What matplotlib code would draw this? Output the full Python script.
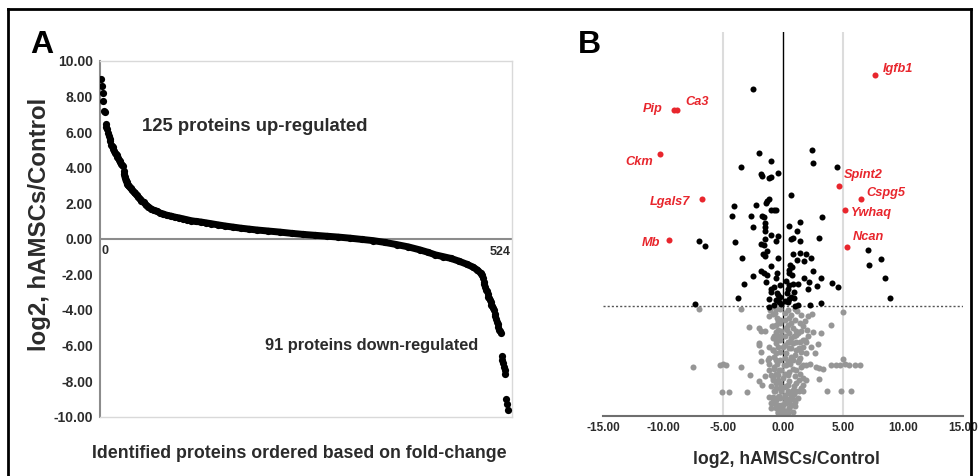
import matplotlib.pyplot as plt
from matplotlib.lines import Line2D

plt.rcParams['font.family'] = ['Liberation Sans', 'DejaVu Sans']
plt.rcParams['font.weight'] = 'bold'

# ---- panel A: proteins ranked by log2 fold-change (rank)
rank = [0, 1, 2, 3, 4, 5, 6, 7, 8, 9, 10, 11, 12, 13, 14, 15, 16, 17, 18, 19,
        20, 21, 22, 23, 24, 25, 26, 27, 28, 29, 30, 31, 32, 33, 34, 35, 36, 38,
        40, 42, 44, 46, 48, 50, 52, 55, 58, 61, 64, 68, 72, 76, 80, 85, 90, 95,
        100, 105, 110, 116, 122, 128, 135, 142, 150, 160, 170, 180, 190, 200,
        215, 230, 245, 260, 275, 290, 305, 320, 335, 350, 365, 380, 395, 410,
        420, 430, 440, 450, 460, 470, 478, 484, 488, 490, 491, 492, 493, 494,
        495, 496, 497, 498, 499, 500, 501, 502, 503, 504, 505, 506, 507, 508,
        509, 510, 511, 512, 513, 514, 515, 516, 517, 518, 519, 520, 521, 522, 523]
log2fc = [9.0, 8.6, 8.2, 7.75, 7.2, 7.15, 6.45, 6.3, 6.2, 5.95, 5.8, 5.6, 5.5,
          5.3, 5.2, 5.15, 5.05, 4.95, 4.85, 4.75, 4.7, 4.6, 4.55, 4.45, 4.4,
          4.3, 4.2, 4.15, 4.1, 3.8, 3.65, 3.45, 3.3, 3.2, 3.1, 3.0, 2.95, 2.85,
          2.75, 2.65, 2.55, 2.45, 2.35, 2.25, 2.15, 2.05, 1.9, 1.8, 1.7, 1.6,
          1.55, 1.45, 1.4, 1.32, 1.28, 1.22, 1.18, 1.13, 1.08, 1.02, 0.98, 0.95,
          0.9, 0.85, 0.79, 0.72, 0.66, 0.6, 0.55, 0.5, 0.44, 0.38, 0.31, 0.25,
          0.2, 0.15, 0.1, 0.04, -0.03, -0.1, -0.2, -0.32, -0.45, -0.62, -0.75,
          -0.9, -1.0, -1.1, -1.25, -1.42, -1.58, -1.75, -1.92, -2.05, -2.2,
          -2.4, -2.55, -2.7, -2.85, -2.95, -3.1, -3.25, -3.35, -3.45, -3.55,
          -3.7, -3.8, -3.9, -4.0, -4.2, -4.35, -4.5, -4.65, -4.8, -4.95, -5.1,
          -5.2, -5.3, -6.6, -6.8, -7.0, -7.2, -7.4, -7.6, -9.0, -9.3, -9.6]
n_proteins = 524

# ---- panel B: volcano (log2 ratio, -log10 p)
sig_x = [-2.51, -2.04, -1.04, -3.51, -1.85, -1.79, -1.04, -1.13, -0.38, 2.40,
         2.49, 4.54, 0.68, -1.18, -1.32, -1.43, -4.07, -2.29, -4.24, -2.63,
         -1.74, -1.60, -0.99, -0.57, -0.74, 3.26, 1.40, -1.54, -6.96, -6.51,
         7.10, 8.13, 7.18, 8.46, 8.90, -7.32, -2.46, -1.46, 0.54, -1.46, 1.18,
         -4.04, -1.82, -1.46, -1.04, -0.43, -0.57, 0.82, 0.63, 1.38, 3.04,
         -1.57, -1.32, -1.46, -1.63, -0.40, -3.43, 0.82, 1.38, 1.93, 1.15,
         2.35, 1.71, -1.04, 0.60, 0.76, 0.54, -1.82, -1.60, -1.35, -0.54,
         -2.51, 0.54, 0.76, 2.49, 1.71, -1.40, -0.57, 2.13, 3.18, 4.10, 4.57,
         -3.29, 2.82, -0.71, -0.99, 0.54, 0.82, 0.40, 1.24, 2.07, -0.99, -0.43,
         -0.29, 0.68, 0.88, -1.13, -0.57, -3.74, 3.18, 2.21, 1.24, 0.40, 0.96,
         -1.13, -0.71, -0.35, -0.20, 0.15, 0.30, -0.50, 0.90, 0.25, -0.25, 0.50]
sig_y = [3.87, 3.11, 3.02, 2.94, 2.86, 2.84, 2.83, 2.81, 2.87, 3.14, 2.99, 2.94,
         2.61, 2.56, 2.54, 2.52, 2.48, 2.49, 2.37, 2.37, 2.37, 2.35, 2.43, 2.44,
         2.43, 2.35, 2.29, 2.28, 2.07, 2.01, 1.96, 1.86, 1.78, 1.63, 1.40, 1.32,
         2.24, 2.24, 2.25, 2.19, 2.19, 2.06, 2.03, 2.09, 2.14, 2.13, 2.07, 2.11,
         2.09, 2.07, 2.11, 2.02, 1.95, 1.89, 1.91, 1.87, 1.87, 1.91, 1.93, 1.91,
         1.85, 1.87, 1.83, 1.77, 1.78, 1.76, 1.73, 1.72, 1.69, 1.67, 1.69, 1.66,
         1.69, 1.67, 1.72, 1.63, 1.59, 1.63, 1.58, 1.63, 1.57, 1.53, 1.56, 1.54,
         1.53, 1.50, 1.55, 1.56, 1.50, 1.56, 1.50, 1.47, 1.43, 1.41, 1.41, 1.40,
         1.38, 1.37, 1.39, 1.34, 1.31, 1.31, 1.35, 1.30, 1.29, 1.31, 1.35,
         1.33, 1.36, 1.45, 1.45, 1.47, 1.60, 1.55, 1.38]

ns_x = [-7.01, -3.51, -1.07, -0.57, -2.85, -1.96, -1.82, -1.46, -0.90, -0.57,
        -0.43, -1.96, -2.01, -1.82, -1.18, -0.71, -0.57, -0.43, -0.57,
        -0.99, -0.29, 0.40, 0.96, 0.68, 1.51, 2.43, 5.04, -1.13, -0.51, 0.49,
        0.96, 1.38, -0.85, 0.40, 0.82, 1.51, 1.99, 2.54, 3.13, 4.01, -0.57,
        0.54, 0.13, -0.85, -0.57, 0.40, 0.82, 1.38, 1.65, 1.93, 2.90, 0.54,
        1.10, 2.35, 0.26, 0.96, 1.51, 2.63, -0.85, -0.71, 0.13, 1.38, 5.04,
        -7.46, -5.24, -5.01, -4.79, -3.54, -2.71, -2.04, -1.76, -1.82, -1.26,
        -1.13, -1.18, -1.46, -0.99, -0.71, -0.57, -0.35, -5.07, -4.46, -2.99,
        -0.99, -0.71, -0.57, -1.13, -0.85, -0.57, -0.43, -0.99, -0.43,
        0.82, 1.51, -0.71, 0.26, 0.54, 1.10, 2.21, 2.76, 2.99, 3.32, 4.01,
        4.43, 4.71, 5.13, 5.54, 5.96, 6.38, 2.96, 1.93, -0.85, -0.01, 0.54,
        1.51, -0.57, 0.26, 0.82, 3.65, 4.85, 5.68, -0.85, -0.29, 0.68, 1.24,
        -0.99, -0.43, 0.26, -0.57, -0.01, 0.54, -0.15, 0.13,
        -0.29, 0.40, 1.24, 1.65, -0.15, 0.82, 1.38, -0.43, 0.13, 0.96, 1.65,
        -0.29, 0.40, 1.10, 1.65, -0.15, 0.54, 1.10, 0.13, 1.65, -0.57, 0.13,
        0.54, 0.96, -0.15, 0.68, -0.29, 0.26, 0.40, -0.43, -0.01, 0.82,
        0.13, -0.29, 0.26, -0.15, 1.10, 0.68, -0.29, 1.10, -0.01, 1.65, -0.29,
        0.68, 1.93, 1.24, 1.65, 2.07, 0.54,
        -0.85, -0.29, -1.13, -0.85, -0.29, -0.85, -0.29, -0.71, -0.29,
        -0.70, 0.20, 1.20, 1.80, 2.10, -0.40, 0.70, 1.10, 0.30, -0.60, 0.90,
        1.80, 0.20, 0.70, 1.30, -0.50, 0.10, 0.60, 1.30, 1.90, -0.60, 0.40,
        1.30, -0.40, 0.90, 0.10, -0.70, 0.40, 1.30, -0.30, 0.90, 0.30, -0.80,
        1.00, 0.50, -0.10, 0.20, 0.80, 0.05, 0.30]
ns_y = [1.26, 1.26, 1.25, 1.27, 1.05, 1.04, 1.00, 1.00, 1.06, 1.08, 1.02, 0.86,
        0.84, 0.76, 0.68, 0.94, 0.90, 0.82, 0.74,
        1.29, 1.27, 1.25, 1.26, 1.20, 1.20, 1.21, 1.23, 1.18, 1.16, 1.16, 1.14,
        1.10, 1.06, 1.08, 1.04, 1.00, 1.02, 0.99, 0.98, 1.08, 0.99, 0.98, 0.94,
        0.92, 0.86, 0.88, 0.86, 0.88, 0.90, 0.87, 0.85, 0.80, 0.78, 0.82, 0.74,
        0.72, 0.76, 0.74, 0.78, 0.70, 0.68, 0.68, 0.67,
        0.58, 0.60, 0.61, 0.60, 0.58, 0.49, 0.41, 0.37, 0.65, 0.66, 0.62, 0.54,
        0.47, 0.49, 0.58, 0.66, 0.54, 0.28, 0.28, 0.28, 0.35, 0.29, 0.39, 0.23,
        0.21, 0.13, 0.23, 0.09, 0.05,
        0.66, 0.58, 0.56, 0.60, 0.52, 0.54, 0.62, 0.58, 0.57, 0.56, 0.60, 0.60,
        0.60, 0.61, 0.60, 0.60, 0.60, 0.44, 0.43, 0.43, 0.45, 0.41, 0.33, 0.33,
        0.35, 0.31, 0.29, 0.29, 0.29, 0.23, 0.21, 0.23, 0.21, 0.15, 0.13, 0.15,
        0.09, 0.07, 0.09, 0.02, 0.01,
        0.66, 0.65, 0.64, 0.60, 0.54, 0.56, 0.50, 0.49, 0.50, 0.47, 0.45,
        0.39, 0.37, 0.39, 0.37, 0.29, 0.27, 0.29, 0.25, 0.29, 0.19, 0.21,
        0.17, 0.17, 0.13, 0.13, 0.07, 0.05, 0.03, 0.03, 0.13, 0.05,
        1.14, 1.10, 1.04, 1.00, 0.96, 0.92, 0.90, 0.88, 0.82, 0.82, 0.76,
        0.70, 0.74, 0.98, 1.06, 0.94, 0.88,
        1.21, 1.14, 0.82, 0.78, 0.94, 0.45, 0.33, 0.15, 0.09,
        1.22, 1.22, 1.24, 1.12, 1.18, 1.12, 1.10, 1.00, 1.02, 0.96, 0.94,
        0.90, 0.84, 0.80, 0.80, 0.62, 0.60, 0.62, 0.66, 0.60, 0.50, 0.48,
        0.42, 0.42, 0.36, 0.34, 0.30, 0.30, 0.30, 0.24, 0.26, 0.20, 0.18,
        0.12, 0.10, 0.10, 0.16, 0.20, 0.00, 0.06]

genes = ['Igfb1', 'Pip', 'Ca3', 'Ckm', 'Lgals7', 'Mb', 'Spint2', 'Cspg5', 'Ywhaq', 'Ncan']
gene_x = [7.65, -9.12, -8.87, -10.29, -6.79, -9.46, 4.68, 6.46, 5.18, 5.35]
gene_y = [4.03, 3.62, 3.62, 3.10, 2.56, 2.08, 2.72, 2.56, 2.43, 2.00]
# label offsets in points from each dot
label_dx = [5.5, -8.1, 6.3, -4.3, -7.9, -6.5, 3.1, 4.3, 4.5, 3.8]
label_dy = [4.1, 0.9, 5.3, -5.8, -1.9, -2.2, 7.9, 4.5, -1.9, 7.4]

RED = '#e8262d'
GREY = '#969696'
TXT = '#2b2b2b'

fig = plt.figure(figsize=(9.79, 4.76), dpi=100)

# ---------------- panel A
axA = fig.add_axes([100 / 979, 1 - 416.7 / 476, 412 / 979, 355.7 / 476])
line_r = [r for r in rank if 30 <= r <= 490]
line_v = [v for r, v in zip(rank, log2fc) if 30 <= r <= 490]
axA.plot(line_r, line_v, color='black', lw=5, solid_capstyle='round', zorder=2)
axA.plot(rank, log2fc, 'o', color='black', ms=5.2, mew=0, zorder=3)
axA.axhline(0, color='#8c8c8c', lw=1.5, zorder=1)
axA.set_xlim(-1.3, 528.5)
axA.set_ylim(-10, 10)
yt = list(range(-10, 11, 2))
axA.set_yticks(yt)
axA.set_yticklabels([f'{v:.2f}' for v in yt], fontsize=10, fontweight='bold', color=TXT)
axA.set_xticks([])
axA.tick_params(axis='y', length=0, pad=5)
for s in ['top', 'right', 'bottom']:
    axA.spines[s].set_color('#d9d9d9')
    axA.spines[s].set_linewidth(1)
axA.spines['left'].set_color('#8c8c8c')
axA.spines['left'].set_linewidth(1.5)
axA.text(5, -0.7, '0', fontsize=9, ha='center', va='center', color=TXT)
axA.text(527, -0.75, str(n_proteins), fontsize=9, ha='right', va='center', color=TXT)
axA.text(53, 6.3, '125 proteins up-regulated', fontsize=13.3, va='center', color=TXT)
axA.text(211, -5.97, '91 proteins down-regulated', fontsize=11.8, va='center', color=TXT)

fig.text(40 / 979, 1 - 224.5 / 476, 'log2, hAMSCs/Control', rotation=90,
         fontsize=17.3, ha='center', va='center', color=TXT)
fig.text(299 / 979, 1 - 453 / 476, 'Identified proteins ordered based on fold-change',
         fontsize=12.8, ha='center', va='center', color=TXT)

# ---------------- panel B
axB = fig.add_axes([603 / 979, 1 - 416 / 476, 360 / 979, 384 / 476])
axB.axvline(-5, color='#dcdcdc', lw=1.5, zorder=0)
axB.axvline(5, color='#dcdcdc', lw=1.5, zorder=0)
axB.axvline(0, color='black', lw=1, zorder=1)
axB.axhline(1.3, color='#555555', lw=1, ls=(0, (1.5, 1.5)), zorder=1)
axB.scatter(ns_x, ns_y, s=19, color=GREY, lw=0, zorder=2)
axB.scatter(sig_x, sig_y, s=19, color='black', lw=0, zorder=3)
axB.scatter(gene_x, gene_y, s=19, color=RED, lw=0, zorder=3)
for g, x, y, dx, dy in zip(genes, gene_x, gene_y, label_dx, label_dy):
    axB.annotate(g, (x, y), xytext=(dx, dy), textcoords='offset points',
                 ha='left' if dx > 0 else 'right', va='center', color=RED,
                 fontsize=9.2, fontweight='bold', style='italic')
axB.set_xlim(-15, 15)
axB.set_ylim(0, 4.54)
xt = list(range(-15, 16, 5))
axB.set_xticks(xt)
axB.set_xticklabels([f'{v:.2f}' for v in xt], fontsize=8.5, fontweight='bold', color=TXT)
axB.set_yticks([])
axB.tick_params(axis='x', length=0, pad=4.5)
for s in ['top', 'right', 'left']:
    axB.spines[s].set_visible(False)
axB.spines['bottom'].set_color('#6e6e6e')
axB.spines['bottom'].set_linewidth(1.5)
fig.text(786 / 979, 1 - 460 / 476, 'log2, hAMSCs/Control', fontsize=12.7,
         ha='center', va='center', color=TXT)

# panel letters
fig.text(30 / 979, 1 - 53 / 476, 'A', fontsize=23, va='baseline')
fig.text(578 / 979, 1 - 53 / 476, 'B', fontsize=23, va='baseline')

# outer frame
for xs, ys in [([8.5, 8.5], [476, 8.5]), ([8.5, 971], [8.5, 8.5]), ([971, 971], [8.5, 476])]:
    fig.add_artist(Line2D([x / 979 for x in xs], [1 - y / 476 for y in ys],
                          transform=fig.transFigure, color='black', lw=2))

fig.savefig('out.png', dpi=100)
